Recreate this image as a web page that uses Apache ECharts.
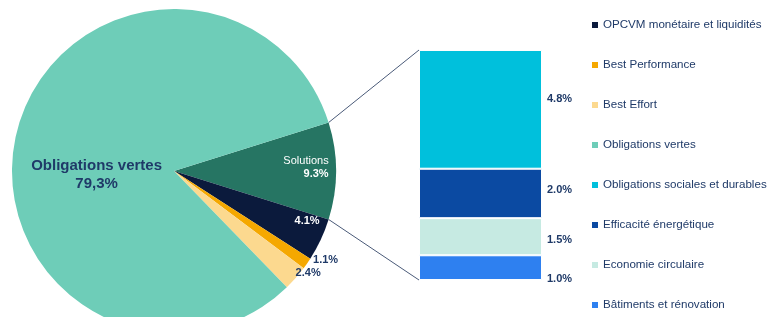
<!DOCTYPE html>
<html>
<head>
<meta charset="utf-8">
<script src="https://cdn.jsdelivr.net/npm/echarts@6/dist/echarts.min.js"></script>
<style>
  html, body { margin: 0; padding: 0; background: #fff; }
  #main { width: 768px; height: 317px; }
</style>
</head>
<body>
<div id="main"></div>
<script>
var pieNames = ['Solutions', 'OPCVM monétaire et liquidités', 'Best Performance', 'Best Effort', 'Obligations vertes'];
var pieValues = [9.3, 4.1, 1.1, 2.4, 79.3];
var pieColors = ['#267563', '#0b1a3c', '#f5a800', '#fcd98f', '#6ecdb8'];

var barNames = ['Bâtiments et rénovation', 'Economie circulaire', 'Efficacité énergétique', 'Obligations sociales et durables'];
var barValues = [1.0, 1.5, 2.0, 4.8];
var barColors = ['#2e80f0', '#c6eae2', '#0b4aa2', '#00c0dc'];

var legendOrder = ['OPCVM monétaire et liquidités', 'Best Performance', 'Best Effort', 'Obligations vertes',
  'Obligations sociales et durables', 'Efficacité énergétique', 'Economie circulaire', 'Bâtiments et rénovation'];

var navy = '#1f3a68';
var font = 'Liberation Sans';

var myChart = echarts.init(document.getElementById('main'));

// labels of the pie slices, one style each
var pieLabels = [
  { show: true, position: 'inside', align: 'right', offset: [48, -4], lineHeight: 13,
    formatter: '{a|Solutions}\n{b|9.3%}',
    rich: { a: { color: '#fff', fontSize: 11, fontFamily: font, align: 'right' },
            b: { color: '#fff', fontSize: 11, fontWeight: 'bold', fontFamily: font, align: 'right' } } },
  { show: true, position: 'inside', offset: [57, 14], color: '#fff', fontSize: 11, fontWeight: 'bold',
    formatter: function (p) { return p.value.toFixed(1) + '%'; } },
  { show: true, position: 'outside', color: navy, fontSize: 11, fontWeight: 'bold', offset: [1, -3],
    formatter: function (p) { return p.value.toFixed(1) + '%'; } },
  { show: true, position: 'outside', color: navy, fontSize: 11, fontWeight: 'bold', offset: [-5, -5],
    formatter: function (p) { return p.value.toFixed(1) + '%'; } },
  { show: true, position: 'inside', offset: [4, 24], color: navy, fontSize: 15, fontWeight: 'bold',
    lineHeight: 18, formatter: 'Obligations vertes\n79,3%' }
];

var pieData = pieNames.map(function (n, i) {
  return { name: n, value: pieValues[i], itemStyle: { color: pieColors[i] }, label: pieLabels[i] };
});

var barOffsets = [11, 3, -3, -10];
var barSeries = barNames.map(function (n, i) {
  return {
    name: n,
    type: 'bar',
    stack: 'sol',
    barWidth: '100%',
    data: [barValues[i]],
    itemStyle: { color: barColors[i], borderColor: '#fff', borderWidth: 1 },
    label: {
      show: true, position: 'right', distance: 5, offset: [0, barOffsets[i]],
      color: navy, fontSize: 11, fontWeight: 'bold', fontFamily: font,
      formatter: function (p) { return p.value.toFixed(1) + '%'; }
    }
  };
});

var option = {
  animation: false,
  textStyle: { fontFamily: font },
  legend: {
    orient: 'vertical',
    left: 592,
    top: 18,
    padding: 0,
    itemWidth: 6,
    itemHeight: 6,
    itemGap: 26,
    icon: 'rect',
    itemStyle: { borderWidth: 0 },
    data: legendOrder,
    textStyle: { color: navy, fontSize: 11.6, lineHeight: 14, fontFamily: font }
  },
  grid: { left: 419, top: 50, width: 123, height: 230 },
  xAxis: { type: 'category', data: ['Solutions'], show: false },
  yAxis: { type: 'value', min: 0, max: 9.3, show: false },
  series: [{
    name: 'Répartition',
    type: 'pie',
    center: [174, 171],
    radius: 162,
    startAngle: 17.4,
    avoidLabelOverlap: false,
    labelLine: { show: false, length: 0, length2: 0 },
    label: { fontFamily: font },
    emphasis: { disabled: true },
    data: pieData
  }].concat(barSeries)
};

myChart.setOption(option);

// connector lines from the Solutions slice to the stacked bar
var pieLayout = myChart.getModel().getSeriesByIndex(0).getData().getItemLayout(0);
var topBar = myChart.getModel().getSeriesByIndex(4).getData().getItemLayout(0);
var botBar = myChart.getModel().getSeriesByIndex(1).getData().getItemLayout(0);
var barLeft = Math.min(topBar.x, topBar.x + topBar.width);
var barTop = Math.min(topBar.y, topBar.y + topBar.height);
var barBottom = Math.max(botBar.y, botBar.y + botBar.height);
var a1 = Math.min(pieLayout.startAngle, pieLayout.endAngle);
var a2 = Math.max(pieLayout.startAngle, pieLayout.endAngle);
var lineStyle = { stroke: '#4a5a78', lineWidth: 1 };

myChart.setOption({
  graphic: [
    { type: 'line', silent: true, z: 0, style: lineStyle, shape: {
      x1: pieLayout.cx + pieLayout.r * Math.cos(a1), y1: pieLayout.cy + pieLayout.r * Math.sin(a1),
      x2: barLeft, y2: barTop } },
    { type: 'line', silent: true, z: 0, style: lineStyle, shape: {
      x1: pieLayout.cx + pieLayout.r * Math.cos(a2), y1: pieLayout.cy + pieLayout.r * Math.sin(a2),
      x2: barLeft, y2: barBottom } }
  ]
});
</script>
</body>
</html>
